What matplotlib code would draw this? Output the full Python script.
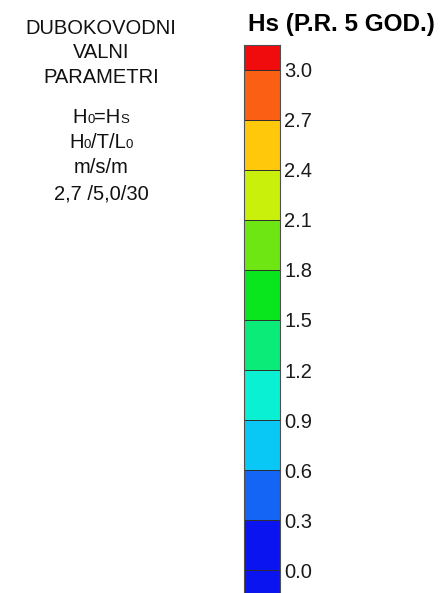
import matplotlib
matplotlib.use("Agg")
import matplotlib.pyplot as plt

plt.rcParams['font.family'] = ['Liberation Sans', 'DejaVu Sans']

# Data
title = "Hs (P.R. 5 GOD.)"
band_bounds = [-0.3, 0.0, 0.3, 0.6, 0.9, 1.2, 1.5, 1.8, 2.1, 2.4, 2.7, 3.0, 3.3]
band_colors = ["#0a14f0", "#0a14f0", "#1464f5", "#0ac8f5", "#0af0d2", "#0aeb78",
               "#0ae61e", "#6ee614", "#c8f00a", "#ffc80a", "#fa5f14", "#f00c0c"]
tick_values = [0.0, 0.3, 0.6, 0.9, 1.2, 1.5, 1.8, 2.1, 2.4, 2.7, 3.0]
tick_labels = ["0.0", "0.3", "0.6", "0.9", "1.2", "1.5", "1.8", "2.1", "2.4", "2.7", "3.0"]
header_lines = ["DUBOKOVODNI", "VALNI", "PARAMETRI"]
# each line: list of (text, is_small)
param_lines = [
    [("H", False), ("0", True), ("=H", False), ("S", True)],
    [("H", False), ("0", True), ("/T/L", False), ("0", True)],
    [("m/s/m", False)],
    [("2,7 /5,0/30", False)],
]

W, H = 448, 593
fig = plt.figure(figsize=(W / 100, H / 100), dpi=100)

# colorbar axes
x0, x1, ytop = 244, 280, 45
ax = fig.add_axes([x0 / W, 0, (x1 - x0) / W, (H - ytop) / H])
for lo, hi, c in zip(band_bounds[:-1], band_bounds[1:], band_colors):
    ax.bar(0, hi - lo, bottom=lo, width=1, color=c, edgecolor="#303030", linewidth=0.7)
ax.set_xlim(-0.5, 0.5)
ax.set_ylim(-0.138, 3.15)
ax.set_xticks([])
ax.yaxis.tick_right()
ax.set_yticks(tick_values)
ax.set_yticklabels(tick_labels)
ax.tick_params(axis='y', length=0, pad=3, labelsize=14.5, labelcolor="#1a1a1a")
for s in ax.spines.values():
    s.set_color("#505050")
    s.set_linewidth(0.8)

# title
fig.text(341 / W, 1 - 31 / H, title, ha='center', va='baseline',
         fontsize=17.5, fontweight='bold', color='black')

# left text
cx = 101
big, small = 14.5, 9.5
for line, base in zip(header_lines, [34.3, 58.5, 83.3]):
    fig.text(cx / W, 1 - base / H, line, ha='center', va='baseline', fontsize=big, color='#111111')

renderer = fig.canvas.get_renderer()
for segs, base in zip(param_lines, [123, 148, 173, 199]):
    texts = []
    widths = []
    for s, is_small in segs:
        t = fig.text(0, 1 - base / H, s, ha='left', va='baseline',
                     fontsize=small if is_small else big, color='#111111')
        w = t.get_window_extent(renderer=renderer).width
        texts.append(t)
        widths.append(w)
    total = sum(widths)
    x = cx - total / 2
    for t, w in zip(texts, widths):
        t.set_x(x / W)
        x += w

fig.savefig("out.png", dpi=100)
